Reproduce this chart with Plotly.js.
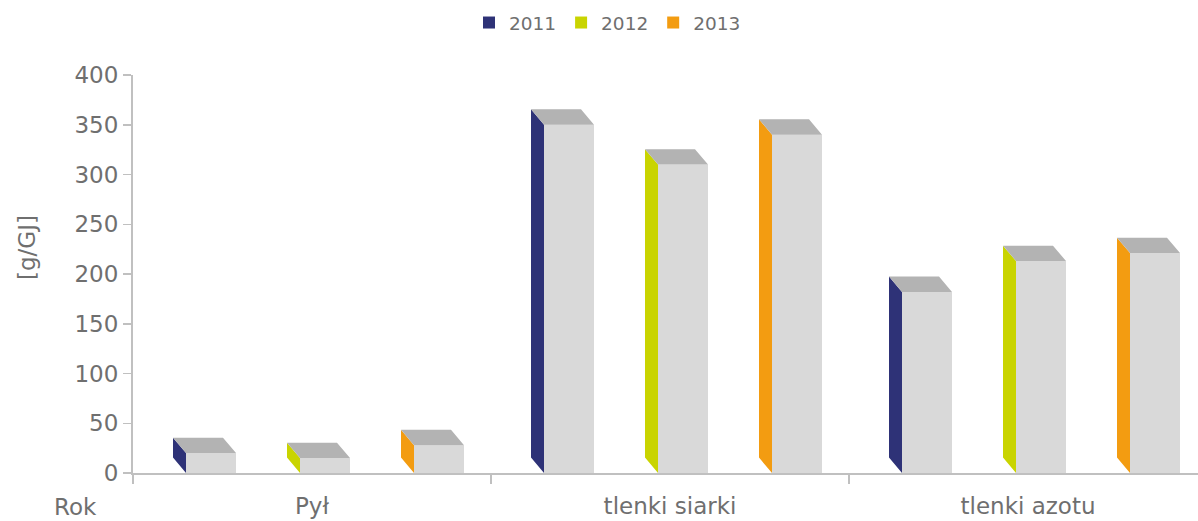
<!DOCTYPE html>
<html>
<head>
<meta charset="utf-8">
<script src="https://cdn.plot.ly/plotly-3.0.1.min.js"></script>
<style>html,body{margin:0;padding:0;background:#fff;}#chart{width:1198px;height:521px;}</style>
</head>
<body>
<div id="chart"></div>
<script>
const categories = ['Pył', 'tlenki siarki', 'tlenki azotu'];
const years = ['2011', '2012', '2013'];
const v2011 = [20, 350, 182];
const v2012 = [15, 310, 213];
const v2013 = [28, 340, 221];
const yTicks = [0, 50, 100, 150, 200, 250, 300, 350, 400];

const series = [v2011, v2012, v2013];
const sideColors = ['#2e3277', '#c9d400', '#f39c11'];
const frontColor = '#d9d9d9';
const topColor = '#b3b3b3';
const textColor = '#6f6f6f';
const axisColor = '#c0c0c0';
const FONT = 'DejaVu Sans, sans-serif';

const PX_PER_CAT = 358;
const PLOT_W = 1065;
const W = 50 / PX_PER_CAT;      // front face width (category units)
const SPACING = 114 / PX_PER_CAT;
const SHIFT = 13 / PX_PER_CAT;
const DX = 13 / PX_PER_CAT;     // depth offset x
const DY = 15.5;                // depth offset y (value units)

const traces = [];
series.forEach((vals, s) => {
  const xs = categories.map((c, i) => i + 0.5 + SHIFT + (s - 1) * SPACING);
  traces.push({
    type: 'bar', x: xs, y: vals, width: W, name: years[s],
    marker: {color: frontColor, line: {width: 0}},
    showlegend: false, hoverinfo: 'skip'
  });
  const sx = [], sy = [], tx = [], ty = [];
  xs.forEach((x, i) => {
    const xl = x - W / 2, xr = x + W / 2, v = vals[i];
    sx.push(xl, xl, xl - DX, xl - DX, xl, null);
    sy.push(0, v, v + DY, DY, 0, null);
    tx.push(xl, xr, xr - DX, xl - DX, xl, null);
    ty.push(v, v, v + DY, v + DY, v, null);
  });
  traces.push({
    type: 'scatter', mode: 'lines', x: sx, y: sy, fill: 'toself',
    fillcolor: sideColors[s], line: {width: 0, color: sideColors[s]},
    showlegend: false, hoverinfo: 'skip'
  });
  traces.push({
    type: 'scatter', mode: 'lines', x: tx, y: ty, fill: 'toself',
    fillcolor: topColor, line: {width: 0, color: topColor},
    showlegend: false, hoverinfo: 'skip'
  });
});
// legend entries
years.forEach((y, s) => {
  traces.push({
    type: 'scatter', mode: 'markers', x: [null], y: [null], xaxis: 'x2', name: y,
    marker: {symbol: 'square', size: 12, color: sideColors[s]}, showlegend: true
  });
});

const xMax = PLOT_W / PX_PER_CAT;
const layout = {
  width: 1198, height: 521,
  margin: {l: 133, r: 0, t: 75, b: 48},
  paper_bgcolor: '#ffffff', plot_bgcolor: '#ffffff',
  font: {family: FONT, color: textColor, size: 23},
  barmode: 'overlay',
  showlegend: true,
  legend: {
    orientation: 'h', x: (469 - 133) / PLOT_W, xanchor: 'left',
    y: 1 + (75 - 23) / 398, yanchor: 'middle',
    font: {family: FONT, size: 18.5, color: textColor},
    bgcolor: 'rgba(0,0,0,0)'
  },
  xaxis: {
    range: [0, xMax], showline: true, linecolor: axisColor, linewidth: 2,
    tickvals: [0, 1, 2, 3], ticks: 'outside', ticklen: 9, tickwidth: 1.5, tickcolor: axisColor,
    showticklabels: false, showgrid: false, zeroline: false, fixedrange: true
  },
  xaxis2: {
    overlaying: 'x', anchor: 'y', side: 'bottom', range: [0, xMax],
    tickvals: [0.5, 1.5, 2.5], ticktext: categories, ticks: '',
    ticklabelstandoff: 17,
    showline: false, showgrid: false, zeroline: false,
    tickfont: {family: FONT, size: 23, color: textColor}, fixedrange: true
  },
  yaxis: {
    range: [0, 400], tickvals: yTicks, showline: true, linecolor: axisColor, linewidth: 2,
    ticks: 'outside', ticklen: 8, tickwidth: 1.5, tickcolor: axisColor,
    showgrid: false, zeroline: false,
    tickfont: {family: FONT, size: 23, color: textColor}, fixedrange: true
  },
  annotations: [
    {text: 'Rok', xref: 'paper', yref: 'paper', x: (75 - 133) / PLOT_W, y: -(507 - 473) / 398,
     xanchor: 'center', yanchor: 'middle', showarrow: false,
     font: {family: FONT, size: 23, color: textColor}},
    {text: '[g/GJ]', xref: 'paper', yref: 'paper', x: (27 - 133) / PLOT_W, y: (473 - 248) / 398,
     xanchor: 'center', yanchor: 'middle', showarrow: false, textangle: -90,
     font: {family: FONT, size: 23, color: textColor}}
  ]
};

Plotly.newPlot('chart', traces, layout, {displayModeBar: false, staticPlot: true});
</script>
</body>
</html>
